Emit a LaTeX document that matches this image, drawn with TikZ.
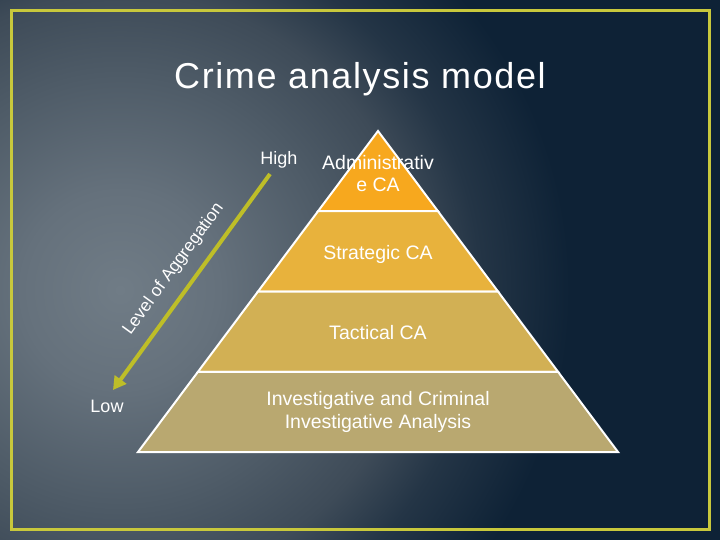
\documentclass[tikz,border=0pt]{standalone}
\usepackage{fontspec}
\setmainfont{Liberation Sans}
\newfontfamily\titlefont[LetterSpace=4.5]{Liberation Sans}
\usetikzlibrary{positioning,arrows.meta,calc}

\definecolor{bgnavy}{RGB}{14,34,54}
\definecolor{glowA}{RGB}{112,124,134}
\definecolor{glowB}{RGB}{101,113,124}
\definecolor{glowC}{RGB}{78,91,103}
\definecolor{glowD}{RGB}{62,75,88}
\definecolor{glowE}{RGB}{36,53,70}
\definecolor{frameyellow}{RGB}{200,200,60}
\definecolor{arrowolive}{RGB}{190,190,40}
\definecolor{lvladmin}{RGB}{247,168,30}
\definecolor{lvlstrat}{RGB}{232,178,60}
\definecolor{lvltact}{RGB}{210,176,84}
\definecolor{lvlinv}{RGB}{185,168,112}

\pgfdeclareradialshading{bgglow}{\pgfpoint{0bp}{0bp}}{%
  color(0bp)=(glowA); color(5.5bp)=(glowB); color(12bp)=(glowC);
  color(16.5bp)=(glowD); color(20bp)=(glowE); color(25bp)=(bgnavy);
  color(50bp)=(bgnavy)}

\begin{document}
\begin{tikzpicture}[
  x=1pt, y=-1pt,
  frameline/.style={draw=frameyellow, line width=3pt},
  layer/.style={draw=white, line width=2pt, line join=miter},
  titletext/.style={font=\titlefont\fontsize{36}{40}\selectfont, inner sep=0pt},
  pyrtext/.style={text=white, font=\fontsize{19.5}{22.5}\selectfont, align=center},
  sidetext/.style={text=white, font=\fontsize{18}{21}\selectfont},
  aggrarrow/.style={draw=arrowolive, line width=4pt, -{Triangle[width=14pt,length=13pt]}}
]
\useasboundingbox (0,0) rectangle (720,540);

% background
\fill[bgnavy] (0,0) rectangle (720,540);
\begin{scope}
  \clip (0,0) rectangle (720,540);
  \shade[shading=bgglow] (120,290) circle (450pt);
\end{scope}
\draw[frameline] (11.5,10.5) rectangle (709.5,529);

% title
\node[titletext, text=white, anchor=base] (title) at (360,89) {Crime analysis model};

% pyramid
\coordinate (apex) at (378,131);
\coordinate (bl) at (138,452);
\coordinate (br) at (618,452);
\coordinate (l1) at ($(apex)!0.25!(bl)$);
\coordinate (r1) at ($(apex)!0.25!(br)$);
\coordinate (l2) at ($(apex)!0.5!(bl)$);
\coordinate (r2) at ($(apex)!0.5!(br)$);
\coordinate (l3) at ($(apex)!0.75!(bl)$);
\coordinate (r3) at ($(apex)!0.75!(br)$);
\filldraw[layer, fill=lvladmin] (apex) -- (r1) -- (l1) -- cycle;
\filldraw[layer, fill=lvlstrat] (l1) -- (r1) -- (r2) -- (l2) -- cycle;
\filldraw[layer, fill=lvltact] (l2) -- (r2) -- (r3) -- (l3) -- cycle;
\filldraw[layer, fill=lvlinv] (l3) -- (r3) -- (br) -- (bl) -- cycle;

\node[pyrtext] (admin) at (378,173.5) {Administrativ\\e CA};
\node[pyrtext] (strat) at (378,254) {Strategic CA};
\node[pyrtext] (tact) at (378,333) {Tactical CA};
\node[pyrtext] (invest) at (378,412) {Investigative and Criminal\\Investigative Analysis};

% aggregation arrow
\node[sidetext] (high) at (279,159.5) {High};
\node[sidetext] (low) at (107,406) {Low};
\coordinate (hi) at (270,174);
\coordinate (lo) at (113,390);
\draw[aggrarrow] (hi) -- (lo);
\path (lo) -- (hi) node[sidetext, font=\fontsize{17.3}{20}\selectfont, midway, sloped, above=10.5pt] (aggr) {Level of Aggregation};

\end{tikzpicture}
\end{document}
